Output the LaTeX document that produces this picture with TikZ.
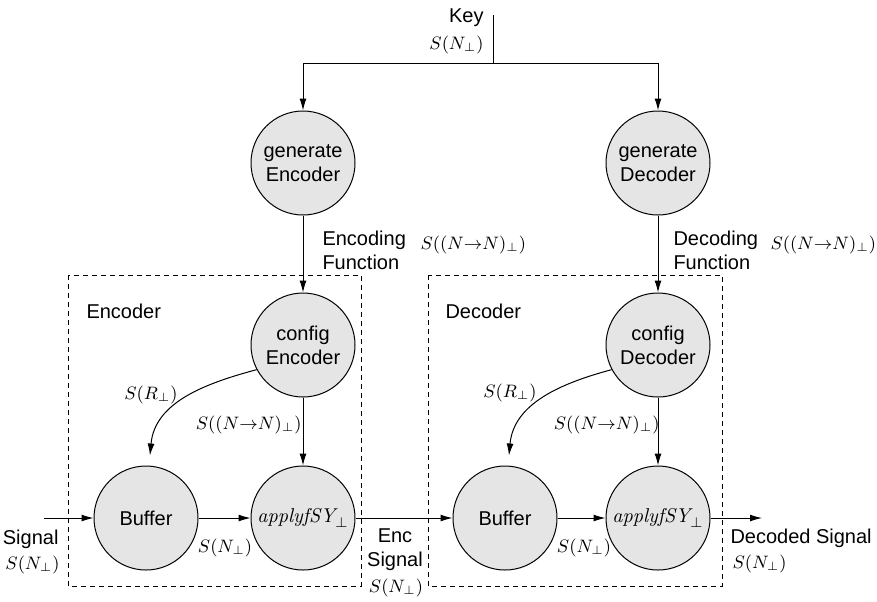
\documentclass[tikz,border=0pt]{standalone}
\usepackage{fontspec}
\setsansfont{Liberation Sans}
\usepackage{tikz}
\usetikzlibrary{shapes,arrows,positioning,calc,arrows.meta}

\tikzset{
    proc/.style={circle, draw, fill=black!10, minimum size=52pt, inner sep=0pt, align=center, font=\sffamily},
    lbl/.style={inner sep=1pt, align=left, font=\sffamily},
    sig/.style={inner sep=1pt, font=\small},
    grp/.style={draw, dash pattern=on 2.5pt off 2pt},
}

\begin{document}
\begin{tikzpicture}[x=0.5pt, y=-0.5pt, >={Latex[length=6pt,width=3.5pt]}, line width=0.5pt]
    \useasboundingbox (0,0) rectangle (877,601);

    % dashed groups
    \draw [grp] (68,275) rectangle (361,586);
    \draw [grp] (428,275) rectangle (722,586);
    \node [lbl, anchor=west] (enclbl) at (84,311) {Encoder};
    \node [lbl, anchor=west] (declbl) at (443,311) {Decoder};

    % processes
    \node [proc] (genenc) at (303,163) {generate\\Encoder};
    \node [proc] (gendec) at (658,163) {generate\\Decoder};
    \node [proc] (cfgenc) at (303,345) {config\\Encoder};
    \node [proc] (cfgdec) at (658,345) {config\\Decoder};
    \node [proc] (bufenc) at (146,518) {Buffer};
    \node [proc] (bufdec) at (505,518) {Buffer};
    \node [proc] (appenc) at (303,518) {$\mathit{applyfSY}_{\perp}$};
    \node [proc] (appdec) at (658,518) {$\mathit{applyfSY}_{\perp}$};

    \coordinate (key) at (493,15);
    \coordinate (keysplit) at (493,63);
    \coordinate (sigin) at (44,518);
    \coordinate (sigout) at (762,518);

    % key
    \draw (key) -- (keysplit);
    \draw [->] (keysplit) -| (genenc);
    \draw [->] (keysplit) -| (gendec);
    \node [lbl, anchor=east] (keytxt) at (486,18) {Key};
    \node [sig, anchor=east] (keysig) at (486,45) {$S(N_{\perp})$};

    % functions
    \draw [->] (genenc) -- (cfgenc);
    \draw [->] (gendec) -- (cfgdec);
    \node [lbl, anchor=west] (encfun) at (320,250) {Encoding\\Function};
    \node [sig, anchor=west] (encfunsig) at (418,245) {$S((N{\rightarrow}N)_{\perp})$};
    \node [lbl, anchor=west] (decfun) at (671,250) {Decoding\\Function};
    \node [sig, anchor=west] (decfunsig) at (768,245) {$S((N{\rightarrow}N)_{\perp})$};

    % encoder
    \draw [->] (cfgenc.208) to [out=195, in=85] ($(bufenc.north)+(4,-10)$);
    \node [sig] (encr) at (151,395) {$S(R_{\perp})$};
    \draw [->] (cfgenc) -- (appenc);
    \node [sig, anchor=east] (encff) at (304,425) {$S((N{\rightarrow}N)_{\perp})$};
    \draw [->] (sigin) -- (bufenc);
    \node [lbl, anchor=east] (sigtxt) at (61,539) {Signal};
    \node [sig, anchor=east] (sigsig) at (62,565) {$S(N_{\perp})$};
    \draw [->] (bufenc) -- (appenc);
    \node [sig] (encbuf) at (225,548) {$S(N_{\perp})$};

    % between
    \draw [->] (appenc) -- (bufdec);
    \node [lbl, align=center] (enctxt) at (395,550) {Enc\\Signal};
    \node [sig] (encsig) at (396,588) {$S(N_{\perp})$};

    % decoder
    \draw [->] (cfgdec.208) to [out=195, in=85] ($(bufdec.north)+(4,-10)$);
    \node [sig] (decr) at (510,393) {$S(R_{\perp})$};
    \draw [->] (cfgdec) -- (appdec);
    \node [sig, anchor=east] (decff) at (662,425) {$S((N{\rightarrow}N)_{\perp})$};
    \draw [->] (bufdec) -- (appdec);
    \node [sig] (decbuf) at (584,548) {$S(N_{\perp})$};
    \draw [->] (appdec) -- (sigout);
    \node [lbl, anchor=west] (outtxt) at (728,538) {Decoded Signal};
    \node [sig, anchor=west] (outsig) at (730,564) {$S(N_{\perp})$};
\end{tikzpicture}
\end{document}
